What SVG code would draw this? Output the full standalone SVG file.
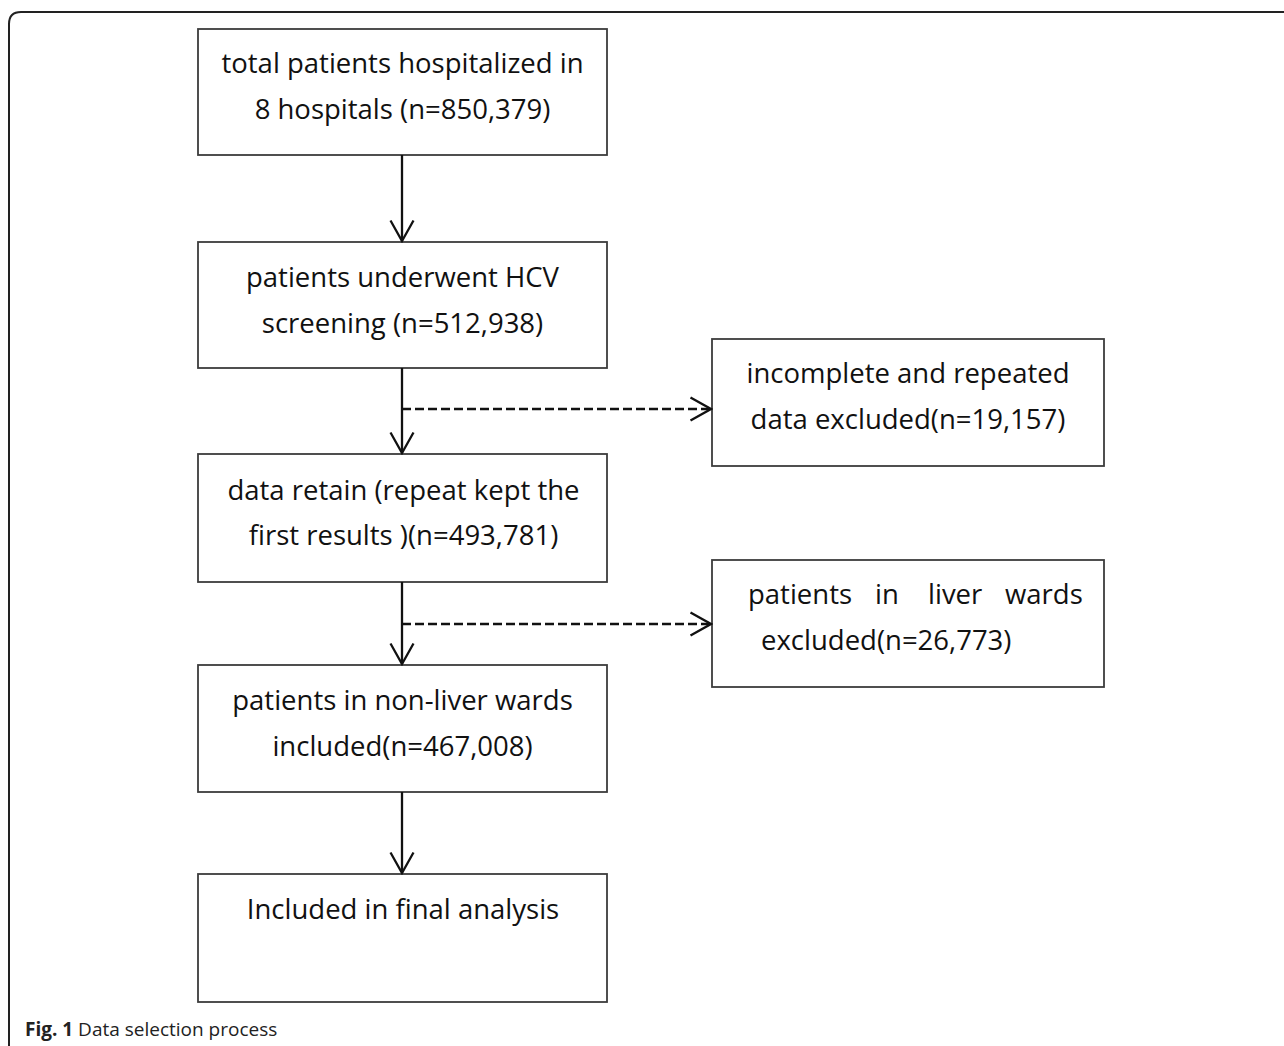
<svg xmlns="http://www.w3.org/2000/svg" width="1284" height="1046" viewBox="0 0 1284 1046">
  <style>
    .box { fill: #ffffff; stroke: #3c3c3c; stroke-width: 1.8; }
    .t { font-family: "Open Sans", "Noto Sans", "DejaVu Sans", sans-serif; font-size: 27.5px; fill: #111; }
    .c { text-anchor: middle; }
    .solid { stroke: #111; stroke-width: 2.3; fill: none; marker-end: url(#arr); }
    .dash { stroke: #111; stroke-width: 2.3; fill: none; stroke-dasharray: 9 4; marker-end: url(#arr); }
    .cap { font-family: "Open Sans", "Noto Sans", "DejaVu Sans", sans-serif; font-size: 19px; fill: #222; }
  </style>
  <defs>
    <marker id="arr" viewBox="0 0 24 26" refX="22" refY="13" markerWidth="24" markerHeight="26" markerUnits="userSpaceOnUse" orient="auto">
      <path d="M1.5,1.5 L22,13 L1.5,24.5" fill="none" stroke="#111" stroke-width="2.3" stroke-dasharray="none"/>
    </marker>
  </defs>
  <rect width="1284" height="1046" fill="#ffffff"/>
  <path d="M9,1046 L9,24 Q9,12 21,12 L1284,12" fill="none" stroke="#222" stroke-width="2"/>

  <g id="n1">
    <rect class="box" x="198" y="29" width="409" height="126"/>
    <text class="t c" x="402.5" y="73">total patients hospitalized in</text>
    <text class="t c" x="402.5" y="119">8 hospitals (n=850,379)</text>
  </g>
  <g id="n2">
    <rect class="box" x="198" y="242" width="409" height="126"/>
    <text class="t c" x="402.5" y="287">patients underwent HCV</text>
    <text class="t c" x="402.5" y="333">screening (n=512,938)</text>
  </g>
  <g id="n3">
    <rect class="box" x="712" y="339" width="392" height="127"/>
    <text class="t c" x="908" y="383">incomplete and repeated</text>
    <text class="t c" x="908" y="429">data excluded(n=19,157)</text>
  </g>
  <g id="n4">
    <rect class="box" x="198" y="454" width="409" height="128"/>
    <text class="t c" x="403.5" y="500">data retain (repeat kept the</text>
    <text class="t c" x="403.5" y="545">first results )(n=493,781)</text>
  </g>
  <g id="n5">
    <rect class="box" x="712" y="560" width="392" height="127"/>
    <text class="t" y="604"><tspan x="748">patients</tspan><tspan x="875">in</tspan><tspan x="928">liver</tspan><tspan x="1005">wards</tspan></text>
    <text class="t" x="761" y="650">excluded(n=26,773)</text>
  </g>
  <g id="n6">
    <rect class="box" x="198" y="665" width="409" height="127"/>
    <text class="t c" x="402.5" y="710">patients in non-liver wards</text>
    <text class="t c" x="402.5" y="756">included(n=467,008)</text>
  </g>
  <g id="n7">
    <rect class="box" x="198" y="874" width="409" height="128"/>
    <text class="t c" x="403" y="919">Included in final analysis</text>
  </g>

  <g id="connectors">
    <line class="solid" x1="402" y1="155" x2="402" y2="241"/>
    <line class="solid" x1="402" y1="368" x2="402" y2="453"/>
    <line class="dash" x1="402" y1="409" x2="711" y2="409"/>
    <line class="solid" x1="402" y1="582" x2="402" y2="664"/>
    <line class="dash" x1="402" y1="624" x2="711" y2="624"/>
    <line class="solid" x1="402" y1="792" x2="402" y2="873"/>
  </g>

  <text class="cap" x="25" y="1036"><tspan font-weight="bold">Fig. 1</tspan> Data selection process</text>
</svg>
